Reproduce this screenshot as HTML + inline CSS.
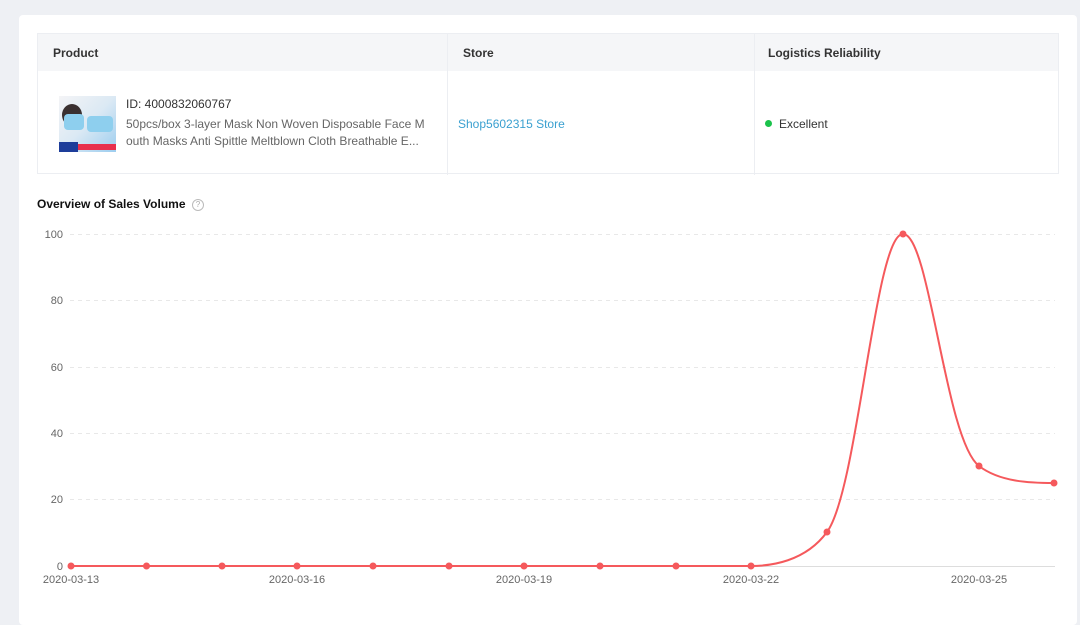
<!DOCTYPE html>
<html><head><meta charset="utf-8"><style>
body{margin:0;width:1080px;height:610px;background:#eef0f4;font-family:"Liberation Sans",sans-serif;position:relative;overflow:hidden}
.card{position:absolute;left:19px;top:15px;width:1058px;height:610px;background:#fff;border-radius:4px}
.t{position:absolute;left:37px;top:33px;width:1022px;height:141px;border:1px solid #eceef2;box-sizing:border-box}
.h{position:absolute;left:0;top:0;width:100%;height:37px;background:#f5f6f8}
.vl{position:absolute;top:0;width:1px;height:141px;background:#eceef2}
.th{position:absolute;top:12px;font-size:12px;font-weight:bold;color:#333}
</style></head><body>
<div class="card"></div>
<div class="t">
<div class="h"></div>
<div class="vl" style="left:409px"></div><div class="vl" style="left:716px"></div>
<div class="th" style="left:15px">Product</div>
<div class="th" style="left:425px">Store</div>
<div class="th" style="left:730px">Logistics Reliability</div>
<div style="position:absolute;left:21px;top:62px;width:57px;height:56px;background:linear-gradient(135deg,#f4f4f6 0%,#dbe9f4 50%,#9ccdef 100%)">
<div style="position:absolute;left:3px;top:8px;width:20px;height:22px;border-radius:50%;background:#3a3030"></div>
<div style="position:absolute;left:5px;top:18px;width:20px;height:16px;background:#8ecfee;border-radius:4px"></div>
<div style="position:absolute;left:28px;top:20px;width:26px;height:16px;background:#8ecfee;border-radius:4px"></div>
<div style="position:absolute;left:0;bottom:0;width:19px;height:10px;background:#1d3d9a"></div>
<div style="position:absolute;left:19px;bottom:2px;width:38px;height:6px;background:#e8304d"></div>
</div>
<div style="position:absolute;left:88px;top:63px;font-size:12px;color:#333">ID: 4000832060767</div>
<div style="position:absolute;left:88px;top:82px;width:300px;font-size:12px;line-height:17px;color:#666">50pcs/box 3-layer Mask Non Woven Disposable Face M<br>outh Masks Anti Spittle Meltblown Cloth Breathable E...</div>
<div style="position:absolute;left:420px;top:83px;font-size:12px;color:#3aa0d0">Shop5602315 Store</div>
<div style="position:absolute;left:727px;top:86px;width:7px;height:7px;border-radius:50%;background:#1bc24b"></div>
<div style="position:absolute;left:741px;top:83px;font-size:12px;color:#333">Excellent</div>
</div>
<div style="position:absolute;left:37px;top:197px;font-size:12px;font-weight:bold;color:#111">Overview of Sales Volume</div>
<div style="position:absolute;left:192px;top:199px;width:10px;height:10px;border:1px solid #bbb;border-radius:50%;font-size:8px;color:#aaa;text-align:center;line-height:10px">?</div>
<svg style="position:absolute;left:0;top:0" width="1080" height="610">
<g stroke="#e8e8e8" stroke-dasharray="4,4" stroke-width="1">
<line x1="70" x2="1055" y1="234.5" y2="234.5"/><line x1="70" x2="1055" y1="300.5" y2="300.5"/>
<line x1="70" x2="1055" y1="367.5" y2="367.5"/><line x1="70" x2="1055" y1="433.5" y2="433.5"/>
<line x1="70" x2="1055" y1="499.5" y2="499.5"/></g>
<line x1="70" x2="1055" y1="566.5" y2="566.5" stroke="#ddd"/>
<g font-size="11" fill="#666" text-anchor="end" font-family="Liberation Sans">
<text x="63" y="238">100</text><text x="63" y="304">80</text><text x="63" y="371">60</text>
<text x="63" y="437">40</text><text x="63" y="503">20</text><text x="63" y="570">0</text></g>
<g font-size="11" fill="#666" text-anchor="middle" font-family="Liberation Sans">
<text x="71" y="583">2020-03-13</text><text x="297" y="583">2020-03-16</text><text x="524" y="583">2020-03-19</text>
<text x="751" y="583">2020-03-22</text><text x="979" y="583">2020-03-25</text></g>
<path d="M71 566 L751 566 C770 566 805 562 827 532 C858 490 875 234 903 234 C930 234 945 440 979 466 C1000 482 1030 483 1054 483" fill="none" stroke="#f5595c" stroke-width="2"/>
<g fill="#f5595c">
<circle cx="71" cy="566" r="3.5"/><circle cx="146.5" cy="566" r="3.5"/><circle cx="222" cy="566" r="3.5"/><circle cx="297" cy="566" r="3.5"/>
<circle cx="373" cy="566" r="3.5"/><circle cx="449" cy="566" r="3.5"/><circle cx="524" cy="566" r="3.5"/><circle cx="600" cy="566" r="3.5"/>
<circle cx="676" cy="566" r="3.5"/><circle cx="751" cy="566" r="3.5"/><circle cx="827" cy="532" r="3.5"/><circle cx="903" cy="234" r="3.5"/>
<circle cx="979" cy="466" r="3.5"/><circle cx="1054" cy="483" r="3.5"/></g>
</svg>
</body></html>
